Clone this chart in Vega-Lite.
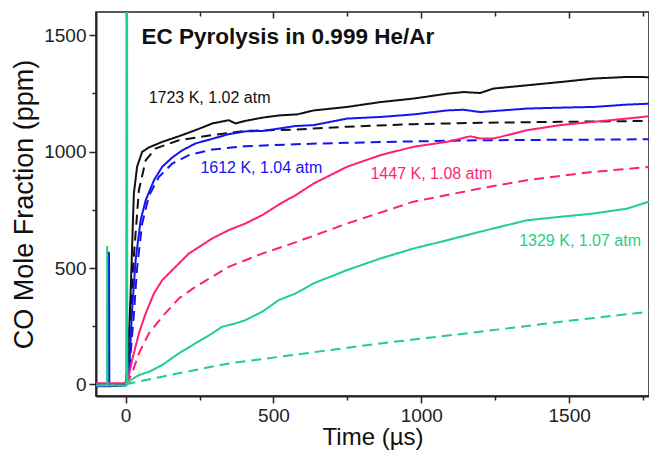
{
  "$schema": "https://vega.github.io/schema/vega-lite/v6.json",
  "width": 553,
  "height": 384,
  "autosize": {"type": "none"},
  "padding": {"left": 96, "top": 12, "right": 0, "bottom": 54},
  "background": "white",
  "config": {
    "font": "Liberation Sans",
    "view": {"stroke": "#222", "strokeWidth": 1.5},
    "axis": {
      "grid": false,
      "domainColor": "#222",
      "domainWidth": 2,
      "tickColor": "#222",
      "tickWidth": 1.5,
      "labelColor": "#222",
      "labelFontSize": 19,
      "titleFontWeight": "normal",
      "titleColor": "#111",
      "labelPadding": 3
    }
  },
  "datasets": {
    "curves": [
      {"T":"1723 K","kind":"exp","t":-100,"y":-5},{"T":"1723 K","kind":"exp","t":-57.5,"y":-5},{"T":"1723 K","kind":"exp","t":-57,"y":570},{"T":"1723 K","kind":"exp","t":-56,"y":-5},{"T":"1723 K","kind":"exp","t":0,"y":-3},{"T":"1723 K","kind":"exp","t":8,"y":100},{"T":"1723 K","kind":"exp","t":17,"y":390},{"T":"1723 K","kind":"exp","t":28,"y":820},{"T":"1723 K","kind":"exp","t":39,"y":935},{"T":"1723 K","kind":"exp","t":56,"y":999},{"T":"1723 K","kind":"exp","t":79,"y":1018},{"T":"1723 K","kind":"exp","t":124,"y":1042},{"T":"1723 K","kind":"exp","t":180,"y":1066},{"T":"1723 K","kind":"exp","t":236,"y":1092},{"T":"1723 K","kind":"exp","t":293,"y":1121},{"T":"1723 K","kind":"exp","t":349,"y":1135},{"T":"1723 K","kind":"exp","t":372,"y":1121},{"T":"1723 K","kind":"exp","t":405,"y":1132},{"T":"1723 K","kind":"exp","t":462,"y":1146},{"T":"1723 K","kind":"exp","t":524,"y":1156},{"T":"1723 K","kind":"exp","t":580,"y":1160},{"T":"1723 K","kind":"exp","t":636,"y":1177},{"T":"1723 K","kind":"exp","t":749,"y":1192},{"T":"1723 K","kind":"exp","t":862,"y":1213},{"T":"1723 K","kind":"exp","t":974,"y":1228},{"T":"1723 K","kind":"exp","t":1087,"y":1249},{"T":"1723 K","kind":"exp","t":1143,"y":1256},{"T":"1723 K","kind":"exp","t":1199,"y":1252},{"T":"1723 K","kind":"exp","t":1244,"y":1271},{"T":"1723 K","kind":"exp","t":1357,"y":1285},{"T":"1723 K","kind":"exp","t":1470,"y":1299},{"T":"1723 K","kind":"exp","t":1582,"y":1314},{"T":"1723 K","kind":"exp","t":1695,"y":1321},{"T":"1723 K","kind":"exp","t":1770,"y":1320},
      {"T":"1723 K","kind":"model","t":0,"y":0},{"T":"1723 K","kind":"model","t":10,"y":150},{"T":"1723 K","kind":"model","t":25,"y":500},{"T":"1723 K","kind":"model","t":45,"y":834},{"T":"1723 K","kind":"model","t":68,"y":963},{"T":"1723 K","kind":"model","t":101,"y":1013},{"T":"1723 K","kind":"model","t":180,"y":1049},{"T":"1723 K","kind":"model","t":293,"y":1071},{"T":"1723 K","kind":"model","t":405,"y":1089},{"T":"1723 K","kind":"model","t":574,"y":1095},{"T":"1723 K","kind":"model","t":749,"y":1107},{"T":"1723 K","kind":"model","t":974,"y":1118},{"T":"1723 K","kind":"model","t":1199,"y":1124},{"T":"1723 K","kind":"model","t":1470,"y":1128},{"T":"1723 K","kind":"model","t":1770,"y":1132},
      {"T":"1612 K","kind":"exp","t":-100,"y":-8},{"T":"1612 K","kind":"exp","t":-56.5,"y":-8},{"T":"1612 K","kind":"exp","t":-56,"y":560},{"T":"1612 K","kind":"exp","t":-55,"y":-8},{"T":"1612 K","kind":"exp","t":0,"y":-5},{"T":"1612 K","kind":"exp","t":11,"y":33},{"T":"1612 K","kind":"exp","t":22,"y":319},{"T":"1612 K","kind":"exp","t":34,"y":534},{"T":"1612 K","kind":"exp","t":51,"y":706},{"T":"1612 K","kind":"exp","t":68,"y":791},{"T":"1612 K","kind":"exp","t":96,"y":877},{"T":"1612 K","kind":"exp","t":124,"y":935},{"T":"1612 K","kind":"exp","t":158,"y":975},{"T":"1612 K","kind":"exp","t":191,"y":1005},{"T":"1612 K","kind":"exp","t":236,"y":1035},{"T":"1612 K","kind":"exp","t":293,"y":1055},{"T":"1612 K","kind":"exp","t":349,"y":1075},{"T":"1612 K","kind":"exp","t":405,"y":1087},{"T":"1612 K","kind":"exp","t":462,"y":1089},{"T":"1612 K","kind":"exp","t":518,"y":1099},{"T":"1612 K","kind":"exp","t":574,"y":1110},{"T":"1612 K","kind":"exp","t":636,"y":1114},{"T":"1612 K","kind":"exp","t":749,"y":1142},{"T":"1612 K","kind":"exp","t":862,"y":1149},{"T":"1612 K","kind":"exp","t":974,"y":1160},{"T":"1612 K","kind":"exp","t":1087,"y":1177},{"T":"1612 K","kind":"exp","t":1143,"y":1180},{"T":"1612 K","kind":"exp","t":1199,"y":1170},{"T":"1612 K","kind":"exp","t":1357,"y":1185},{"T":"1612 K","kind":"exp","t":1470,"y":1189},{"T":"1612 K","kind":"exp","t":1582,"y":1192},{"T":"1612 K","kind":"exp","t":1695,"y":1202},{"T":"1612 K","kind":"exp","t":1770,"y":1206},
      {"T":"1612 K","kind":"model","t":0,"y":0},{"T":"1612 K","kind":"model","t":15,"y":100},{"T":"1612 K","kind":"model","t":28,"y":300},{"T":"1612 K","kind":"model","t":39,"y":500},{"T":"1612 K","kind":"model","t":56,"y":690},{"T":"1612 K","kind":"model","t":79,"y":810},{"T":"1612 K","kind":"model","t":113,"y":892},{"T":"1612 K","kind":"model","t":158,"y":949},{"T":"1612 K","kind":"model","t":214,"y":985},{"T":"1612 K","kind":"model","t":293,"y":1009},{"T":"1612 K","kind":"model","t":405,"y":1023},{"T":"1612 K","kind":"model","t":574,"y":1032},{"T":"1612 K","kind":"model","t":749,"y":1038},{"T":"1612 K","kind":"model","t":974,"y":1044},{"T":"1612 K","kind":"model","t":1199,"y":1049},{"T":"1612 K","kind":"model","t":1770,"y":1053},
      {"T":"1447 K","kind":"exp","t":-100,"y":5},{"T":"1447 K","kind":"exp","t":0,"y":5},{"T":"1447 K","kind":"exp","t":10,"y":30},{"T":"1447 K","kind":"exp","t":22,"y":104},{"T":"1447 K","kind":"exp","t":45,"y":219},{"T":"1447 K","kind":"exp","t":68,"y":305},{"T":"1447 K","kind":"exp","t":96,"y":391},{"T":"1447 K","kind":"exp","t":124,"y":448},{"T":"1447 K","kind":"exp","t":169,"y":505},{"T":"1447 K","kind":"exp","t":214,"y":562},{"T":"1447 K","kind":"exp","t":293,"y":627},{"T":"1447 K","kind":"exp","t":349,"y":663},{"T":"1447 K","kind":"exp","t":405,"y":691},{"T":"1447 K","kind":"exp","t":462,"y":727},{"T":"1447 K","kind":"exp","t":524,"y":777},{"T":"1447 K","kind":"exp","t":574,"y":812},{"T":"1447 K","kind":"exp","t":636,"y":863},{"T":"1447 K","kind":"exp","t":749,"y":935},{"T":"1447 K","kind":"exp","t":862,"y":985},{"T":"1447 K","kind":"exp","t":974,"y":1021},{"T":"1447 K","kind":"exp","t":1087,"y":1042},{"T":"1447 K","kind":"exp","t":1166,"y":1066},{"T":"1447 K","kind":"exp","t":1199,"y":1056},{"T":"1447 K","kind":"exp","t":1244,"y":1056},{"T":"1447 K","kind":"exp","t":1357,"y":1092},{"T":"1447 K","kind":"exp","t":1470,"y":1114},{"T":"1447 K","kind":"exp","t":1582,"y":1128},{"T":"1447 K","kind":"exp","t":1695,"y":1142},{"T":"1447 K","kind":"exp","t":1770,"y":1152},
      {"T":"1447 K","kind":"model","t":0,"y":0},{"T":"1447 K","kind":"model","t":20,"y":40},{"T":"1447 K","kind":"model","t":45,"y":133},{"T":"1447 K","kind":"model","t":79,"y":219},{"T":"1447 K","kind":"model","t":124,"y":291},{"T":"1447 K","kind":"model","t":180,"y":369},{"T":"1447 K","kind":"model","t":236,"y":419},{"T":"1447 K","kind":"model","t":349,"y":505},{"T":"1447 K","kind":"model","t":462,"y":562},{"T":"1447 K","kind":"model","t":574,"y":610},{"T":"1447 K","kind":"model","t":749,"y":691},{"T":"1447 K","kind":"model","t":974,"y":785},{"T":"1447 K","kind":"model","t":1199,"y":842},{"T":"1447 K","kind":"model","t":1357,"y":877},{"T":"1447 K","kind":"model","t":1582,"y":913},{"T":"1447 K","kind":"model","t":1770,"y":934},
      {"T":"1329 K","kind":"exp","t":-100,"y":-5},{"T":"1329 K","kind":"exp","t":-62.5,"y":-5},{"T":"1329 K","kind":"exp","t":-62,"y":595},{"T":"1329 K","kind":"exp","t":-61,"y":-5},{"T":"1329 K","kind":"exp","t":2,"y":-5},{"T":"1329 K","kind":"exp","t":3,"y":1700},{"T":"1329 K","kind":"exp","t":5,"y":1700},{"T":"1329 K","kind":"exp","t":6,"y":0},{"T":"1329 K","kind":"exp","t":20,"y":20},{"T":"1329 K","kind":"exp","t":45,"y":40},{"T":"1329 K","kind":"exp","t":79,"y":54},{"T":"1329 K","kind":"exp","t":124,"y":83},{"T":"1329 K","kind":"exp","t":180,"y":133},{"T":"1329 K","kind":"exp","t":236,"y":176},{"T":"1329 K","kind":"exp","t":293,"y":219},{"T":"1329 K","kind":"exp","t":327,"y":248},{"T":"1329 K","kind":"exp","t":372,"y":262},{"T":"1329 K","kind":"exp","t":405,"y":276},{"T":"1329 K","kind":"exp","t":462,"y":312},{"T":"1329 K","kind":"exp","t":518,"y":362},{"T":"1329 K","kind":"exp","t":574,"y":390},{"T":"1329 K","kind":"exp","t":636,"y":434},{"T":"1329 K","kind":"exp","t":749,"y":491},{"T":"1329 K","kind":"exp","t":862,"y":541},{"T":"1329 K","kind":"exp","t":974,"y":584},{"T":"1329 K","kind":"exp","t":1087,"y":619},{"T":"1329 K","kind":"exp","t":1132,"y":634},{"T":"1329 K","kind":"exp","t":1244,"y":670},{"T":"1329 K","kind":"exp","t":1357,"y":705},{"T":"1329 K","kind":"exp","t":1470,"y":720},{"T":"1329 K","kind":"exp","t":1582,"y":734},{"T":"1329 K","kind":"exp","t":1695,"y":755},{"T":"1329 K","kind":"exp","t":1770,"y":785},
      {"T":"1329 K","kind":"model","t":0,"y":0},{"T":"1329 K","kind":"model","t":124,"y":33},{"T":"1329 K","kind":"model","t":236,"y":62},{"T":"1329 K","kind":"model","t":349,"y":90},{"T":"1329 K","kind":"model","t":524,"y":119},{"T":"1329 K","kind":"model","t":862,"y":176},{"T":"1329 K","kind":"model","t":1199,"y":226},{"T":"1329 K","kind":"model","t":1470,"y":269},{"T":"1329 K","kind":"model","t":1770,"y":312}
    ],
    "labels": [
      {"T":"1723 K","label":"1723 K, 1.02 atm","t":78,"y":1229},
      {"T":"1612 K","label":"1612 K, 1.04 atm","t":253,"y":929},
      {"T":"1447 K","label":"1447 K, 1.08 atm","t":828,"y":906},
      {"T":"1329 K","label":"1329 K, 1.07 atm","t":1331,"y":615}
    ],
    "heading": [
      {"label":"EC Pyrolysis in 0.999 He/Ar","t":54,"y":1492}
    ]
  },
  "resolve": {"axis": {"x": "independent"}},
  "layer": [
    {
      "data": {"name": "curves"},
      "mark": {"type": "line", "clip": true, "strokeWidth": 2},
      "encoding": {
        "x": {
          "field": "t", "type": "quantitative",
          "scale": {"domain": [-100, 1770], "nice": false, "zero": false},
          "axis": {
            "orient": "bottom",
            "title": "Time (µs)",
            "titleFontSize": 24,
            "values": [0, 250, 500, 750, 1000, 1250, 1500, 1750],
            "format": "d",
            "labelExpr": "datum.value % 500 === 0 ? datum.label : ''",
            "tickSize": {"condition": {"test": "datum.value % 500 === 0", "value": 7}, "value": 4},
            "titlePadding": 0
          }
        },
        "y": {
          "field": "y", "type": "quantitative",
          "scale": {"domain": [-50, 1600], "nice": false, "zero": false},
          "axis": {
            "title": "CO Mole Fraction (ppm)",
            "titleFontSize": 27,
            "values": [0, 250, 500, 750, 1000, 1250, 1500],
            "format": "d",
            "labelExpr": "datum.value % 500 === 0 ? datum.label : ''",
            "tickSize": {"condition": {"test": "datum.value % 500 === 0", "value": 7}, "value": 4},
            "titlePadding": 5
          }
        },
        "color": {
          "field": "T", "type": "nominal",
          "scale": {"domain": ["1723 K", "1612 K", "1447 K", "1329 K"], "range": ["#111111", "#1414f0", "#ff1f78", "#1fcf8a"]},
          "legend": null
        },
        "strokeDash": {
          "field": "kind", "type": "nominal",
          "scale": {"domain": ["exp", "model"], "range": [[1, 0], [10, 6]]},
          "legend": null
        }
      }
    },
    {
      "data": {"name": "labels"},
      "mark": {"type": "text", "align": "left", "baseline": "middle", "fontSize": 16},
      "encoding": {
        "x": {"field": "t", "type": "quantitative", "axis": null},
        "y": {"field": "y", "type": "quantitative"},
        "text": {"field": "label"},
        "color": {"field": "T", "type": "nominal", "legend": null}
      }
    },
    {
      "data": {"name": "heading"},
      "mark": {"type": "text", "align": "left", "baseline": "middle", "fontSize": 22.5, "fontWeight": "bold", "color": "#111"},
      "encoding": {
        "x": {
          "field": "t", "type": "quantitative",
          "axis": {
            "orient": "top",
            "title": null,
            "domain": false,
            "labels": false,
            "values": [0, 250, 500, 750, 1000, 1250, 1500, 1750],
            "tickSize": {"condition": {"test": "datum.value % 500 === 0", "value": -6}, "value": -4}
          }
        },
        "y": {"field": "y", "type": "quantitative"},
        "text": {"field": "label"}
      }
    }
  ]
}
